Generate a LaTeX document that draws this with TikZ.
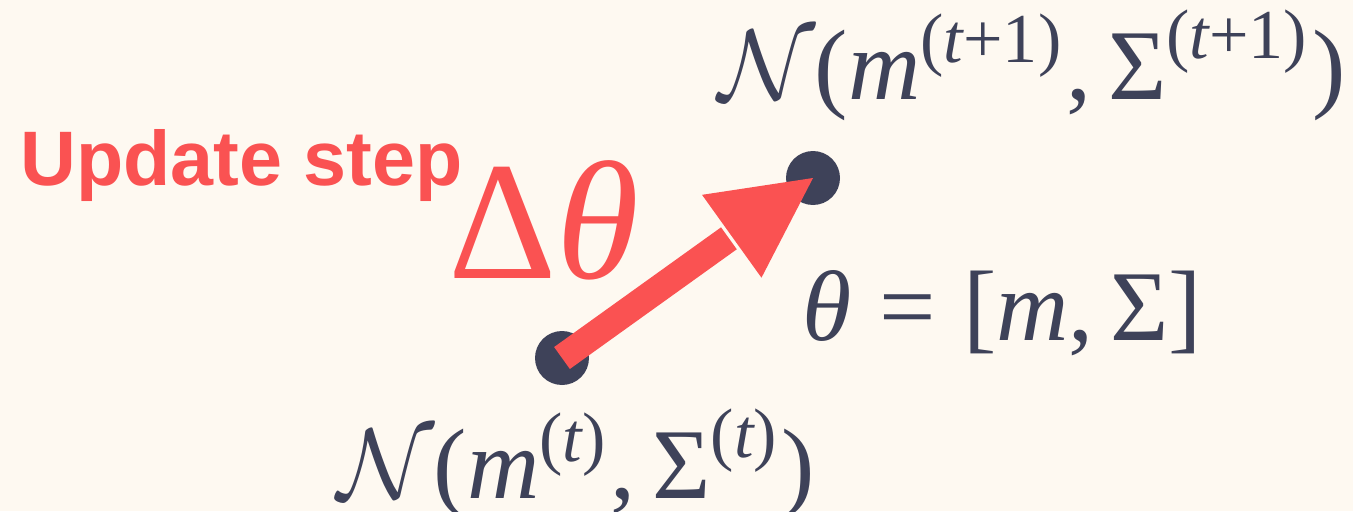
\documentclass[tikz,border=0pt]{standalone}
\usepackage{amsmath}
\usepackage{fontspec}
\newfontfamily\labelfont{Liberation Sans}
\newfontfamily\tmfont{Liberation Serif}
\newcommand{\ti}[1]{\text{\tmfont\itshape #1}}
\newcommand{\tu}[1]{\text{\tmfont #1}}
\usetikzlibrary{calc}
\definecolor{bg}{HTML}{FEF9F1}
\definecolor{ink}{HTML}{3E4259}
\definecolor{accent}{HTML}{FA5252}
\tikzset{
  dot/.style={circle,fill=ink,inner sep=0pt,minimum size=1.08cm},
  mathlabel/.style={inner sep=0pt,anchor=base west,text=ink,scale=5.7},
  steplabel/.style={inner sep=0pt,anchor=base west,text=accent,font=\labelfont\bfseries\fontsize{44}{52}\selectfont},
  deltalabel/.style={inner sep=0pt,anchor=base west,text=accent,scale=9.6},
}
\begin{document}
\begin{tikzpicture}[x=0.02cm,y=-0.02cm]
\useasboundingbox (0,0) rectangle (1353,511);
\fill[bg] (0,0) rectangle (1353,511);
\node[dot] (d0) at (562,358) {};
\node[dot] (d1) at (813,178) {};
% arrow
\coordinate (hb) at ($(d1.center)!2cm!(d0.center)$);
\coordinate (c1) at ($(hb)!1.02cm!90:(d1.center)$);
\coordinate (c2) at ($(hb)!1.02cm!-90:(d1.center)$);
\draw[accent,line width=0.54cm] (d0.center) -- ($(hb)!-2pt!(d1.center)$);
\fill[accent] (d1.center) -- (c1) -- (c2) -- cycle;
% labels
\node[steplabel] (upd) at (20,185) {Update step};
\node[deltalabel] (dt) at (445,278) {\tmfont Δ\itshape θ};
\node[mathlabel] (top) at (716,99) {$\mathcal{N}\tu{(}\ti{m}^{\tu{(}\ti{t}\tu{+1)}}\tu{,}\,\tu{Σ}^{\tu{(}\ti{t}\tu{+1)}}\tu{)}$};
\node[mathlabel] (bot) at (335,498) {$\mathcal{N}\tu{(}\ti{m}^{\tu{(}\ti{t}\tu{)}}\tu{,}\,\tu{Σ}^{\tu{(}\ti{t}\tu{)}}\tu{)}$};
\node[mathlabel] (par) at (800,340) {$\ti{θ}\mathrel{\tu{=}}\tu{[}\ti{m}\tu{,}\,\tu{Σ}\tu{]}$};
\end{tikzpicture}
\end{document}
